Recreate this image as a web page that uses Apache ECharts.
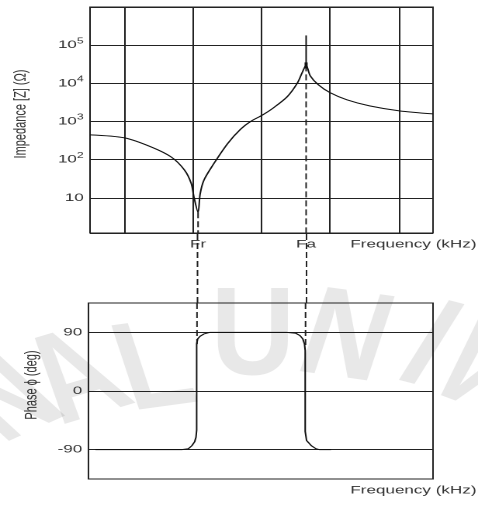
<!DOCTYPE html>
<html>
<head>
<meta charset="utf-8">
<script src="https://cdn.jsdelivr.net/npm/echarts@6/dist/echarts.min.js"></script>
<style>
  html, body { margin: 0; padding: 0; background: #fff; overflow: hidden; }
  /* the original picture is stretched sideways, so the chart is drawn narrow and widened */
  #main { width: 308px; height: 507px; transform: scaleX(1.552); transform-origin: 0 0; }
</style>
</head>
<body>
<div id="main"></div>
<script>
// 频率轴（无单位刻度，0~10）
const freqGrid = [1, 3, 5, 7, 9]
const markerNames = ['Fr', 'Fa']
const markerFreq = [3.15, 6.30]

// 阻抗曲线
const freqZ = [0, 1.01, 1.79, 2.37, 2.75, 2.95, 3.03, 3.15, 3.21, 3.32, 3.61, 4.02, 4.39, 4.68,
  5.03, 5.35, 5.75, 6.04, 6.18, 6.30, 6.42, 6.65, 6.99, 7.49, 8.15, 9.02, 10]
const impedance = [447, 372, 214, 117, 54, 24, 10.5, 4.2, 12.6, 29, 79, 270, 630, 1000,
  1480, 2290, 4470, 10000, 18600, 29500, 15800, 9300, 5750, 3700, 2570, 1900, 1580]
const impedanceTicks = [10, 100, 1000, 10000, 100000]
const spikeTop = 180000

// 相位曲线
const freqP = [0.2, 2.71, 2.90, 3.00, 3.08, 3.12, 3.14, 3.14, 3.17, 3.24, 3.35, 3.53,
  5.75, 6.02, 6.14, 6.22, 6.27, 6.29, 6.29, 6.33, 6.47, 6.60, 6.71, 7.04]
const phase = [-90, -90, -88.5, -84, -78, -71, -60, 72, 80, 84, 87.5, 90,
  90, 88.5, 85, 80, 72, 62, -62, -76, -84, -88.5, -90, -90]
const phaseTicks = [-90, 0, 90]
const phaseDashEnd = [72, 67]

const chart = echarts.init(document.getElementById('main'), null, { devicePixelRatio: 2 })

const font = '"Liberation Sans", Arial, sans-serif'
const ink = '#222'
const textColor = '#333'

// 水印
const watermark = [
  { t: 'N', x: 4, y: 400, r: 35 },
  { t: 'A', x: 50, y: 382, r: 25 },
  { t: 'L', x: 100, y: 372, r: 12 },
  { t: 'U', x: 163, y: 340, r: 0 },
  { t: 'N', x: 222, y: 342, r: -12 },
  { t: 'I', x: 275, y: 350, r: -22 },
  { t: 'V', x: 306, y: 368, r: -30 }
]

function pairs(xs, ys) {
  return xs.map((x, i) => [x, ys[i]])
}

function dashed(name, xi, yi, data) {
  return {
    name: name,
    type: 'line',
    xAxisIndex: xi,
    yAxisIndex: yi,
    data: data,
    symbol: 'none',
    silent: true,
    z: 1,
    lineStyle: { color: ink, width: 1, type: [6, 3] }
  }
}

const zMin = Math.min(...impedance)
const zMax = Math.max(...impedance)

const freqName = {
  name: 'Frequency (kHz)',
  nameLocation: 'end',
  nameGap: 28,
  nameTextStyle: { color: textColor, fontSize: 11, align: 'right', verticalAlign: 'top', padding: [6, 0, 0, 0] }
}

const option = {
  animation: false,
  backgroundColor: '#fff',
  textStyle: { fontFamily: font },
  graphic: watermark.map(w => ({
    type: 'text',
    x: w.x,
    y: w.y,
    rotation: w.r * Math.PI / 180,
    scaleX: 0.6,
    silent: true,
    z: -1,
    style: {
      text: w.t,
      fontSize: 125,
      fontWeight: 'bold',
      fontFamily: font,
      fill: 'rgba(0,0,0,0.09)',
      align: 'center',
      verticalAlign: 'middle'
    }
  })),
  grid: [
    { left: 57, right: 28, top: 7, height: 226, show: true, borderColor: ink, borderWidth: 1 },
    { left: 57, right: 28, top: 233, height: 70, show: false },
    { left: 57, right: 28, top: 303, height: 176, show: true, borderColor: ink, borderWidth: 1 }
  ],
  xAxis: [
    Object.assign({
      gridIndex: 0,
      type: 'value',
      min: 0,
      max: 10,
      axisLine: { show: false, onZero: false },
      axisTick: { show: false, customValues: freqGrid },
      splitLine: { show: true, lineStyle: { color: ink, width: 1 } },
      axisLabel: {
        customValues: markerFreq,
        margin: 6,
        color: textColor,
        fontSize: 11,
        formatter: v => {
          const i = markerFreq.findIndex(f => Math.abs(f - v) < 1e-6)
          return i >= 0 ? markerNames[i] : ''
        }
      }
    }, freqName),
    { gridIndex: 1, type: 'value', min: 0, max: 10, show: false },
    Object.assign({
      gridIndex: 2,
      type: 'value',
      min: 0,
      max: 10,
      axisLine: { show: false, onZero: false },
      axisTick: { show: false },
      axisLabel: { show: false },
      splitLine: { show: false }
    }, freqName)
  ],
  yAxis: [
    {
      gridIndex: 0,
      type: 'log',
      logBase: 10,
      min: 1.2,
      max: 1000000,
      axisLine: { show: false },
      axisTick: { show: false },
      splitLine: { show: true, lineStyle: { color: ink, width: 1 } },
      axisLabel: {
        margin: 4,
        formatter: v => {
          const p = Math.round(Math.log10(v))
          if (!impedanceTicks.some(t => Math.abs(Math.log10(t) - Math.log10(v)) < 0.01)) return ''
          return p === 1 ? '{b|10}' : '{b|10}{s|' + p + '}'
        },
        rich: {
          b: { fontSize: 11, lineHeight: 16, color: textColor, fontFamily: font },
          s: { fontSize: 8, lineHeight: 8, verticalAlign: 'top', color: textColor, fontFamily: font }
        }
      },
      name: 'Impedance [Z] (Ω)',
      nameLocation: 'middle',
      nameRotate: 90,
      nameGap: 39,
      nameTextStyle: { color: textColor, fontSize: 11, padding: [0, 0, 0, 12] }
    },
    { gridIndex: 1, type: 'value', min: 0, max: 1, show: false },
    {
      gridIndex: 2,
      type: 'value',
      min: -135,
      max: 135,
      axisLine: { show: false },
      axisTick: { show: false, customValues: phaseTicks },
      splitLine: { show: true, lineStyle: { color: ink, width: 1 } },
      axisLabel: { customValues: phaseTicks, margin: 4, color: textColor, fontSize: 11 },
      name: 'Phase ϕ (deg)',
      nameLocation: 'middle',
      nameRotate: 90,
      nameGap: 30,
      nameTextStyle: { color: textColor, fontSize: 11, padding: [0, 0, 0, 12] }
    }
  ],
  series: [
    // 谐振点 / 反谐振点的虚线
    dashed('Fr top', 0, 0, [[markerFreq[0], zMin], [markerFreq[0], 1.2]]),
    dashed('Fa top', 0, 0, [[markerFreq[1], zMax], [markerFreq[1], 1.2]]),
    dashed('Fr gap', 1, 1, [[markerFreq[0], 0], [markerFreq[0], 1]]),
    dashed('Fa gap', 1, 1, [[markerFreq[1], 0], [markerFreq[1], 1]]),
    dashed('Fr bottom', 2, 2, [[markerFreq[0], 135], [markerFreq[0], phaseDashEnd[0]]]),
    dashed('Fa bottom', 2, 2, [[markerFreq[1], 135], [markerFreq[1], phaseDashEnd[1]]]),
    {
      name: 'Impedance',
      type: 'line',
      xAxisIndex: 0,
      yAxisIndex: 0,
      data: pairs(freqZ, impedance),
      symbol: 'none',
      smooth: 0.3,
      z: 3,
      lineStyle: { color: '#111', width: 1 }
    },
    {
      name: 'Peak',
      type: 'line',
      xAxisIndex: 0,
      yAxisIndex: 0,
      data: [
        { value: [markerFreq[1], zMax], symbol: 'rect', symbolSize: [2, 6] },
        { value: [markerFreq[1], spikeTop], symbol: 'none' }
      ],
      showSymbol: true,
      itemStyle: { color: '#111' },
      z: 3,
      lineStyle: { color: '#111', width: 1 }
    },
    {
      name: 'Phase',
      type: 'line',
      xAxisIndex: 2,
      yAxisIndex: 2,
      data: pairs(freqP, phase),
      symbol: 'none',
      z: 3,
      lineStyle: { color: '#111', width: 1 }
    }
  ]
}

chart.setOption(option)
</script>
</body>
</html>
